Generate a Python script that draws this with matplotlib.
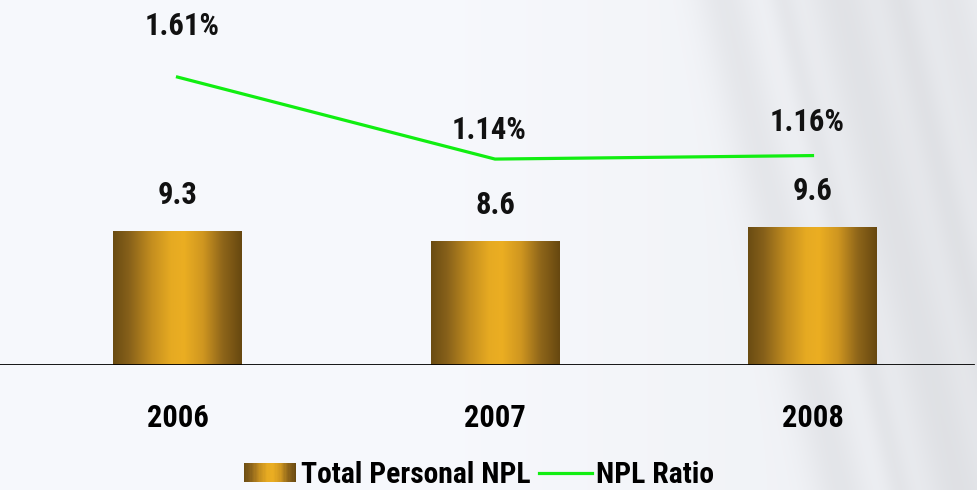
import numpy as np
import matplotlib
matplotlib.use("Agg")
import matplotlib.pyplot as plt
from matplotlib.colors import LinearSegmentedColormap
from matplotlib.patches import Rectangle
from matplotlib.lines import Line2D
from matplotlib.legend_handler import HandlerBase

# ---- data ----
years = ["2006", "2007", "2008"]
npl_values = [9.3, 8.6, 9.6]
npl_ratio = [1.61, 1.14, 1.16]
bar_labels = ["9.3", "8.6", "9.6"]
ratio_labels = ["1.61%", "1.14%", "1.16%"]

# ---- fonts ----
FS = 22
LFS = 21.3
plt.rcParams["font.family"] = ["Roboto Condensed", "DejaVu Sans"]
plt.rcParams["font.weight"] = "bold"

gold = LinearSegmentedColormap.from_list(
    "gold",
    [(0.0, "#6a4c12"), (0.12, "#86601a"), (0.3, "#c48e1f"), (0.45, "#e6aa22"),
     (0.55, "#ebae22"), (0.7, "#cf9620"), (0.85, "#8f661a"), (1.0, "#674810")])

fig = plt.figure(figsize=(9.77, 4.90), dpi=100)

# background
bg = fig.add_axes([0, 0, 1, 1], zorder=0)
H, W = 245, 489
yy, xx = np.mgrid[0:H, 0:W]
xs = xx / W
ys = yy / H
u = xs - 0.12 * ys
val = 0.982 - 0.035 * np.clip((xs - 0.45) / 0.55, 0, 1)
for c, w, a in [(0.74, 0.03, 0.05), (0.80, 0.015, 0.04), (0.86, 0.04, 0.06),
                (0.92, 0.02, 0.05), (0.97, 0.03, 0.04)]:
    val -= a * np.exp(-((u - c) / w) ** 2)
img = np.dstack([val * 0.985, val * 0.992, val * 1.0 + 0.008])
img = np.clip(img, 0, 1)
bg.imshow(img, aspect="auto", extent=[0, 1, 0, 1], interpolation="bilinear")
bg.set_axis_off()

# main axes
ax = fig.add_axes([0, 125 / 490, 1, 365 / 490], zorder=1)
ax.patch.set_alpha(0)
x = np.arange(len(years))
ax.set_xlim(-177.5 / 317.5, (977 - 177.5) / 317.5)
ax.set_ylim(0, 365 / 14.4)
width = 129 / 317.5
bars = ax.bar(x, npl_values, width=width, color="none", edgecolor="none")
grad = np.linspace(0, 1, 256).reshape(1, -1)
for b in bars:
    x0, y0 = b.get_x(), b.get_y()
    im = ax.imshow(grad, cmap=gold, aspect="auto",
                   extent=[x0, x0 + b.get_width(), y0, y0 + b.get_height()],
                   zorder=2, interpolation="bilinear")
    im.set_clip_path(b)
for xi, v, lab in zip(x, npl_values, bar_labels):
    ax.annotate(lab, (xi, v), xytext=(0, 26), textcoords="offset points",
                ha="center", va="center", fontsize=FS, fontweight="bold", color="#111111")
ax.axhline(0, xmin=0, xmax=973 / 977, color="black", lw=2.0, zorder=3)
ax.set_xticks(x, years)
ax.tick_params(axis="x", length=0, pad=27, labelsize=FS)
for t in ax.get_xticklabels():
    t.set_fontweight("bold")
ax.set_yticks([])
for s in ax.spines.values():
    s.set_visible(False)

ax2 = ax.twinx()
ax2.set_ylim(-(365 - 358) / 174.5, 358 / 174.5)
line, = ax2.plot(x, npl_ratio, color="#11ee11", lw=2.3, zorder=4)
offsets = [(3, 37), (-4, 21), (-4, 24)]
for xi, v, lab, off in zip(x, npl_ratio, ratio_labels, offsets):
    ax2.annotate(lab, (xi, v), xytext=off, textcoords="offset points",
                 ha="center", va="center", fontsize=FS, fontweight="bold", color="#111111")
ax2.set_yticks([])
for s in ax2.spines.values():
    s.set_visible(False)


class HandlerGradient(HandlerBase):
    def create_artists(self, legend, orig_handle, xdescent, ydescent,
                       width, height, fontsize, trans):
        n = 40
        arts = []
        for i in range(n):
            r = Rectangle((-xdescent + width * i / n, -ydescent), width / n * 1.05, height,
                          facecolor=gold((i + 0.5) / n), edgecolor="none", transform=trans)
            arts.append(r)
        return arts


gh = Rectangle((0, 0), 1, 1)
lh = Line2D([], [], color="#11ee11", lw=2.3)
fig.legend([gh, lh], ["Total Personal NPL", "NPL Ratio"],
           handler_map={Rectangle: HandlerGradient()},
           loc="center", bbox_to_anchor=(479 / 977, 1 - 475 / 490),
           ncol=2, frameon=False, prop={"size": LFS, "weight": "bold"},
           handlelength=1.78, handleheight=0.62, handletextpad=0.15,
           columnspacing=0.3, borderpad=0, borderaxespad=0)

fig.savefig("out.png", dpi=100)
